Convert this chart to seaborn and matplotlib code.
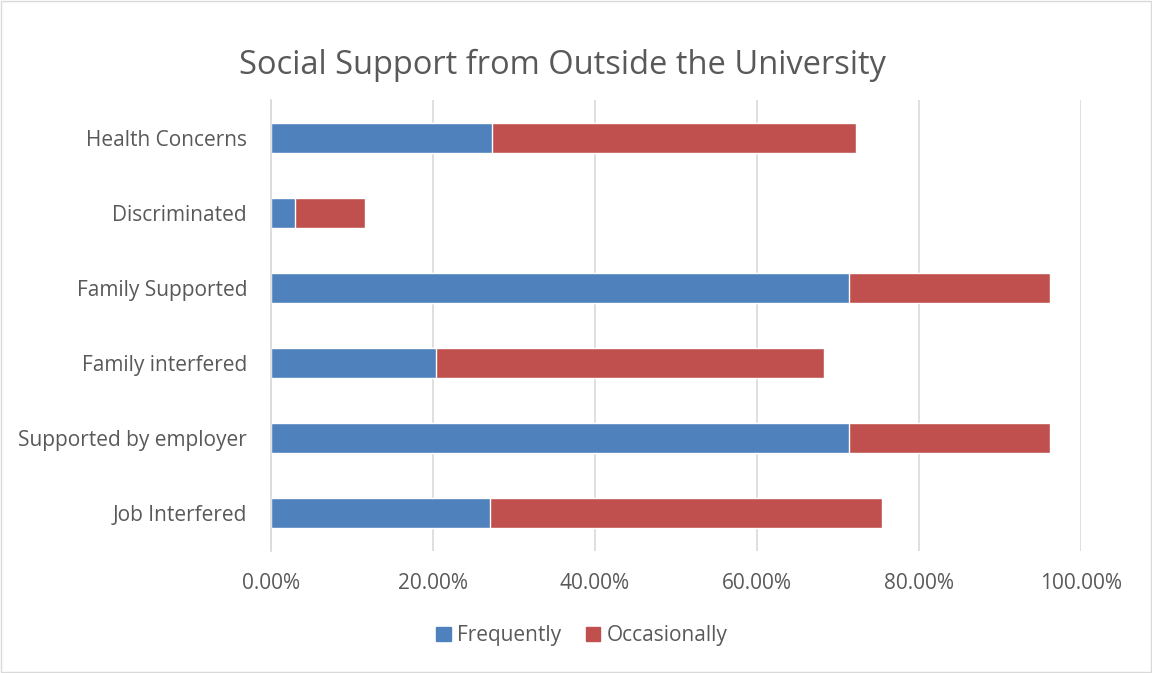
import pandas as pd
import seaborn as sns
import matplotlib.pyplot as plt
from matplotlib.patches import Patch
from matplotlib.ticker import PercentFormatter

categories = ["Health Concerns", "Discriminated", "Family Supported",
              "Family interfered", "Supported by employer", "Job Interfered"]
frequently = [27.3, 3.0, 71.4, 20.4, 71.4, 27.1]
occasionally = [45.0, 8.7, 24.8, 47.9, 24.8, 48.4]

df = pd.DataFrame({"Category": categories,
                   "Frequently": frequently,
                   "Occasionally": occasionally})
df["Total"] = df["Frequently"] + df["Occasionally"]

sns.set_style("white")
plt.rcParams["font.family"] = ["Open Sans", "DejaVu Sans"]

blue = "#4F81BD"
red = "#C0504D"
grey = "#595959"

fig = plt.figure(figsize=(11.52, 6.73), dpi=100)
ax = fig.add_axes([0.235, 0.182, 0.703, 0.669])

# stacked bars: total (red) underneath, frequently (blue) on top
sns.barplot(data=df, x="Total", y="Category", color=red, width=0.4,
            saturation=1, ax=ax, orient="h")
sns.barplot(data=df, x="Frequently", y="Category", color=blue, width=0.4,
            saturation=1, ax=ax, orient="h")

ax.set_xlim(0, 100)
ax.set_ylim(5.5, -0.5)
ax.set_xticks([0, 20, 40, 60, 80, 100])
ax.xaxis.set_major_formatter(PercentFormatter(decimals=2))
ax.grid(axis="x", color="#d9d9d9", linewidth=1.2)
ax.set_axisbelow(True)
for s in ["top", "right", "bottom"]:
    ax.spines[s].set_visible(False)
ax.spines["left"].set_color("#d9d9d9")
ax.spines["left"].set_linewidth(1.2)
ax.set_xlabel("")
ax.set_ylabel("")
ax.tick_params(axis="both", length=0, labelsize=15, colors=grey)
ax.tick_params(axis="x", pad=16)
ax.tick_params(axis="y", pad=17)

fig.suptitle("Social Support from Outside the University", x=0.488, y=0.928,
             fontsize=23.5, color=grey)

handles = [Patch(color=blue, label="Frequently"),
           Patch(color=red, label="Occasionally")]
fig.legend(handles=handles, loc="center", bbox_to_anchor=(0.505, 0.055), ncol=2,
           frameon=False, fontsize=15, labelcolor=grey, handlelength=0.7,
           handleheight=0.7, handletextpad=0.3, columnspacing=1.2)

fig.patches.append(plt.Rectangle((0.001, 0.001), 0.998, 0.998, transform=fig.transFigure,
                                 fill=False, edgecolor="#d9d9d9", linewidth=1))

fig.savefig("out.png", dpi=100)
